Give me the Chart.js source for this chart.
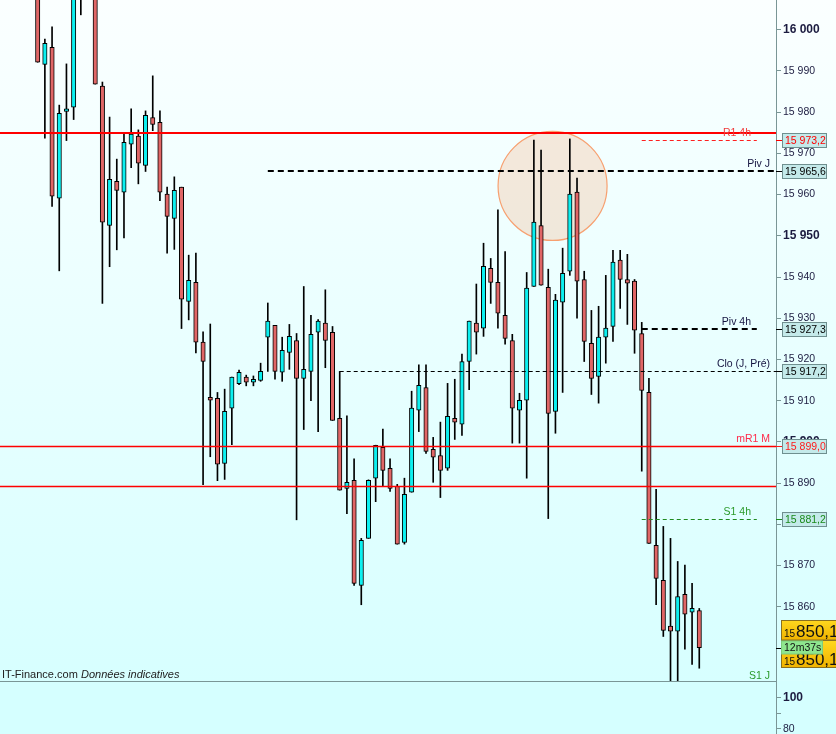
<!DOCTYPE html>
<html><head><meta charset="utf-8">
<script src="https://cdn.jsdelivr.net/npm/chart.js@4/dist/chart.umd.min.js"></script>
<style>
html,body{margin:0;padding:0;background:#d6ffff;overflow:hidden;width:836px;height:734px}
#main{position:absolute;left:0;top:0;width:836px;height:681px}
#sub{position:absolute;left:0;top:681px;width:836px;height:53px}
</style></head><body>
<div id="main"><canvas id="c1"></canvas></div>
<div id="sub"><canvas id="c2"></canvas></div>
<script>
// ---------- data ----------
const opens  = [16016,15991.6,15995.7,15959.1,15980.2,15981.2,16014,16010,16013,15986.3,
 15952.5,15963.2,15960.6,15972.2,15974.2,15967.1,15978.7,15977.5,15960.1,15954.2,
 15961.8,15934.1,15938.7,15924.2,15910.8,15910.6,15894.8,15908.2,15914.1,15915.7,
 15914.5,15914.9,15925.4,15928.3,15916.9,15921.7,15924.6,15915.4,15917.1,15926.6,
 15928.8,15926.6,15905.7,15888.7,15890.7,15865.2,15876.6,15891.2,15898.7,15893.6,
 15889.2,15875.6,15887.8,15907.7,15913.2,15898.2,15896.7,15893.6,15905.7,15904.3,
 15919.5,15928.8,15927.6,15942.1,15938.7,15930.7,15924.6,15907.7,15910.1,15937.7,
 15952.5,15937.5,15907.4,15933.9,15941.4,15960.6,15939.4,15923.9,15915.9,15925.4,
 15928.0,15944.1,15939.4,15939.0,15926.3,15912.0,15874.9,15866.4,15855.3,15854.1,
 15863.0,15858.7,15859.1];
const highs  = [16020,15997.7,16000.7,15981.7,15991.7,16016,16020,16018,16016,15987.3,
 15978.8,15968.6,15974.9,15980.8,15975.7,15980.3,15988.8,15980.3,15961.8,15964.3,
 15961.8,15945.3,15945.8,15926.7,15928.6,15912.0,15912.8,15915.7,15917.4,15916.2,
 15916.0,15919.1,15933.7,15928.3,15925.4,15928.5,15926.3,15937.7,15930.7,15929.7,
 15936.9,15928.0,15917.1,15906.3,15895.9,15876.6,15890.8,15899.2,15903.1,15895.9,
 15889.7,15891.2,15912.3,15918.7,15918.7,15901.1,15904.8,15914.2,15915.2,15921.3,
 15929.3,15938.3,15948.2,15944.5,15956.3,15946.2,15926.1,15911.8,15941.1,15973.2,
 15970.8,15941.9,15935.8,15947.0,15973.5,15964.0,15941.4,15931.9,15932.9,15940.4,
 15946.5,15946.5,15945.5,15939.4,15929.0,15915.4,15888.5,15879.5,15876.6,15871.0,
 15870.1,15865.7,15859.6];
const lows   = [15992.1,15973.7,15957.1,15941.5,15973.1,15978.2,16003.6,16008.5,15986.8,15933.6,
 15942.5,15946.6,15949.5,15966.5,15962.6,15965.6,15975.5,15958.5,15945.8,15946.7,
 15927.5,15929.6,15921.6,15889.6,15896.4,15890.6,15890.9,15899.3,15913.9,15913.6,
 15913.6,15914.7,15917.1,15915.2,15914.7,15917.6,15881.1,15903.0,15910.0,15902.5,
 15918.0,15905.2,15888.3,15882.6,15865.2,15860.5,15876.6,15885.5,15889.2,15888.0,
 15875.2,15875.2,15887.8,15902.5,15897.2,15890.2,15886.5,15893.1,15900.6,15901.6,
 15912.7,15921.3,15925.6,15933.6,15927.6,15923.7,15899.7,15899.7,15891.2,15937.7,
 15938.0,15881.4,15902.1,15912.0,15940.4,15930.0,15919.5,15911.5,15909.4,15919.1,
 15924.4,15932.4,15928.5,15921.5,15892.9,15875.4,15860.5,15852.8,15838.0,15839.0,
 15849.7,15846.0,15845.1];
const closes = [15992.1,15996.7,15959.6,15979.7,15980.8,16012,16009,16014,15986.8,15953.3,
 15963.7,15961.0,15972.7,15974.7,15967.6,15979.2,15977.0,15960.6,15954.7,15961.0,
 15934.6,15939.2,15924.2,15919.5,15910.1,15894.6,15907.4,15915.7,15916.9,15914.5,
 15915.2,15917.1,15929.3,15917.1,15922.2,15925.6,15915.4,15917.6,15926.1,15929.3,
 15924.6,15905.2,15888.3,15890.2,15865.7,15876.1,15890.7,15899.2,15893.1,15888.7,
 15875.2,15887.3,15908.2,15913.7,15897.7,15896.3,15893.1,15906.2,15904.8,15919.5,
 15929.3,15926.6,15942.6,15938.7,15931.2,15925.1,15908.2,15910.1,15937.3,15953.3,
 15938.0,15906.9,15934.4,15940.9,15960.1,15939.0,15924.4,15915.4,15925.4,15927.6,
 15943.6,15939.4,15938.5,15927.1,15912.5,15875.4,15866.9,15854.3,15854.1,15862.5,
 15858.2,15859.6,15850.1];
const candleIndex = opens.map((_, i) => i);

const levelNames  = ['R1 4h', 'Piv J', 'Piv 4h', 'Clo (J, Pré)', 'mR1 M', 'S1 4h', 'S1 J'];
const levelValues = [15973.2, 15965.6, 15927.3, 15917.2, 15899.0, 15881.2, 15836.0];
const plainRedLines = [15975.0, 15889.2];
const yTicksMain = {min: 15842.0, max: 16007.2, step: 10};
const yTicksSub  = {min: 76.8, max: 110.7, step: 10};
const subTickValues = [80, 90, 100];
const subTickLabels = ['80', '', '100'];
const timerText = '12m37s';

// ---------- styles ----------
const FONT = "'Liberation Sans', Arial, sans-serif";
const AXIS_COL = '#7a9696';
const levelStyle = {
  'R1 4h':        {line:'#ff2020', w:1, dash:[4,3], from:84, to:100, labelRight:751, text:'#f03a3a', box:'#ff0000'},
  'Piv J':        {line:'#000000', w:2, dash:[6,4], from:32, to:null, labelRight:770, text:'#141440', box:'#000000'},
  'Piv 4h':       {line:'#000000', w:2, dash:[6,4], from:84, to:100, labelRight:751, text:'#141440', box:'#000000'},
  'Clo (J, Pré)': {line:'#000000', w:1, dash:[4,3], from:42, to:null, labelRight:770, text:'#141440', box:'#000000'},
  'mR1 M':        {line:'#ff0000', w:1.4, dash:[], from:null, to:null, labelRight:770, text:'#ff2a4a', box:'#ff1a1a'},
  'S1 4h':        {line:'#1f8a1f', w:1, dash:[4,3], from:84, to:100, labelRight:751, text:'#2a9a2a', box:'#1a8a1a'},
  'S1 J':         {line:'#1f8a1f', w:1, dash:[], from:null, to:null, labelRight:770, text:'#2a9a2a', box:'#1a8a1a'}
};
const circleSpec = {x: 71.6, y: 15962.1, r: 7.58};

function fmtNum(v, dec) {
  const s = dec ? v.toFixed(1) : Math.round(v).toString();
  const parts = s.split('.');
  let ip = parts[0];
  if (ip.length > 3) ip = ip.slice(0, ip.length - 3) + ' ' + ip.slice(-3);
  return parts.length > 1 ? ip + ',' + parts[1] : ip;
}

const bgPlugin = {
  id: 'bg',
  beforeDraw(chart) {
    const {ctx, width, height} = chart;
    const g = ctx.createLinearGradient(0, 0, 0, height);
    g.addColorStop(0, '#fbffff');
    g.addColorStop(1, '#d7ffff');
    ctx.save(); ctx.fillStyle = g; ctx.fillRect(0, 0, width, height); ctx.restore();
  },
  beforeDatasetsDraw(chart) {
    const {ctx} = chart;
    const xs = chart.scales.x, ys = chart.scales.y;
    const cx = xs.getPixelForValue(circleSpec.x), cy = ys.getPixelForValue(circleSpec.y);
    const r = xs.getPixelForValue(circleSpec.x + circleSpec.r) - cx;
    ctx.save();
    ctx.beginPath(); ctx.arc(cx, cy, r, 0, Math.PI * 2);
    ctx.fillStyle = 'rgba(245,150,90,0.22)'; ctx.fill();
    ctx.strokeStyle = '#f7a070'; ctx.lineWidth = 1.2; ctx.stroke();
    ctx.restore();
  },
  afterDatasetsDraw(chart) {
    const {ctx, chartArea} = chart;
    const xs = chart.scales.x, ys = chart.scales.y;
    ctx.save();
    ctx.beginPath(); ctx.rect(chartArea.left, chartArea.top, chartArea.right - chartArea.left, chartArea.bottom - chartArea.top); ctx.clip();
    plainRedLines.forEach((v, i) => {
      const y = Math.round(ys.getPixelForValue(v)) + (i === 0 ? 0 : 0.5);
      ctx.beginPath(); ctx.moveTo(chartArea.left, y); ctx.lineTo(chartArea.right, y);
      ctx.strokeStyle = '#ff0000'; ctx.lineWidth = i === 0 ? 2 : 1.4; ctx.setLineDash([]); ctx.stroke();
    });
    levelNames.forEach((name, i) => {
      const st = levelStyle[name];
      const v = levelValues[i];
      const y = ys.getPixelForValue(v);
      const inRange = v >= ys.min && v <= ys.max;
      if (inRange) {
        const yy = st.w === 2 ? Math.round(y) : Math.round(y) + 0.5;
        const x0 = st.from === null ? chartArea.left : xs.getPixelForValue(st.from);
        const x1 = st.to === null ? chartArea.right : xs.getPixelForValue(st.to);
        ctx.beginPath(); ctx.moveTo(x0, yy); ctx.lineTo(x1, yy);
        ctx.strokeStyle = st.line; ctx.lineWidth = st.w; ctx.setLineDash(st.dash); ctx.stroke();
      }
      const ty = inRange ? y - 7 : chartArea.bottom - 5;
      ctx.setLineDash([]);
      ctx.font = '10.5px ' + FONT; ctx.textAlign = 'right'; ctx.textBaseline = 'middle';
      ctx.fillStyle = st.text; ctx.fillText(name, st.labelRight, ty);
    });
    ctx.restore();
  },
  afterDraw(chart) {
    const {ctx, chartArea} = chart;
    const ys = chart.scales.y;
    ctx.save();
    const bx = chartArea.right + 6;
    levelNames.forEach((name, i) => {
      const v = levelValues[i];
      if (v < ys.min || v > ys.max) return;
      const st = levelStyle[name];
      const y = Math.round(ys.getPixelForValue(v));
      ctx.strokeStyle = st.box; ctx.lineWidth = 1;
      ctx.beginPath(); ctx.moveTo(chartArea.right, y + 0.5); ctx.lineTo(bx, y + 0.5); ctx.stroke();
      ctx.fillStyle = '#c4eaea'; ctx.fillRect(bx + 0.5, y - 6.5, 44, 14);
      ctx.strokeStyle = '#6f8f8f'; ctx.strokeRect(bx + 0.5, y - 6.5, 44, 14);
      ctx.fillStyle = st.box; ctx.font = '10.5px ' + FONT; ctx.textAlign = 'left'; ctx.textBaseline = 'middle';
      ctx.fillText(fmtNum(v, true), bx + 3, y + 1);
    });
    const last = closes[closes.length - 1];
    const py = Math.round(ys.getPixelForValue(last));
    ctx.strokeStyle = '#000'; ctx.lineWidth = 1;
    ctx.beginPath(); ctx.moveTo(chartArea.right, py + 0.5); ctx.lineTo(bx, py + 0.5); ctx.stroke();
    const s = fmtNum(last, true);
    const head = s.slice(0, 2), tail = s.slice(3);
    const drawYellow = (top, h, base) => {
      const g = ctx.createLinearGradient(0, top, 0, top + h);
      g.addColorStop(0, '#ffd820'); g.addColorStop(1, '#f0b400');
      ctx.fillStyle = g; ctx.fillRect(bx - 0.5, top + 0.5, 60, h);
      ctx.strokeStyle = '#8a7020'; ctx.strokeRect(bx - 0.5, top + 0.5, 60, h);
      ctx.fillStyle = '#111'; ctx.textAlign = 'left'; ctx.textBaseline = 'alphabetic';
      ctx.font = '10px ' + FONT; ctx.fillText(head, bx + 2, base);
      ctx.font = '17px ' + FONT; ctx.fillText(tail, bx + 14, base);
    };
    drawYellow(py - 28, 19.5, py - 11);
    drawYellow(py - 8, 27, py + 17);
    ctx.fillStyle = '#8ee68e'; ctx.fillRect(bx - 0.5, py - 7, 41, 13);
    ctx.strokeStyle = '#7ccc7c'; ctx.strokeRect(bx - 0.5, py - 7, 41, 13);
    ctx.fillStyle = '#111'; ctx.font = '10.5px ' + FONT; ctx.textBaseline = 'middle';
    ctx.fillText(timerText, bx + 2, py);
    ctx.fillStyle = '#222'; ctx.textBaseline = 'middle';
    ctx.font = '11px ' + FONT; ctx.fillText('IT-Finance.com', 2, chartArea.bottom - 6);
    ctx.font = 'italic 11px ' + FONT; ctx.fillText('Données indicatives', 81, chartArea.bottom - 6);
    ctx.restore();
  }
};

function yAxis(lim, fixedTicks, fixedLabels) {
  const ax = {
    position: 'right', min: lim.min, max: lim.max,
    afterFit(scale) { scale.width = 60; scale.paddingTop = 0; scale.paddingBottom = 0; },
    border: {display: true, color: AXIS_COL, width: 1},
    grid: {drawOnChartArea: false, drawTicks: true, tickLength: 5, color: AXIS_COL, tickColor: AXIS_COL},
    ticks: {
      stepSize: lim.step, includeBounds: false, autoSkip: false, padding: 2, color: '#1c1c40',
      font: (c) => (c.tick && Math.round(c.tick.value) % 50 === 0)
        ? {family: FONT, size: 12, weight: 'bold'} : {family: FONT, size: 10.5},
      callback: (v) => {
        if (fixedTicks) { const k = fixedTicks.indexOf(Math.round(v)); return k >= 0 ? fixedLabels[k] : ''; }
        return fmtNum(v, false);
      }
    }
  };
  if (fixedTicks) {
    ax.afterBuildTicks = (scale) => { scale.ticks = fixedTicks.map(v => ({value: v})); };
  }
  return ax;
}

Chart.defaults.font.family = FONT;

new Chart(document.getElementById('c1'), {
  type: 'bar',
  data: {
    datasets: [
      {
        label: 'body', order: 0, grouped: false, clip: 0,
        data: candleIndex.map((x, i) => ({x: x, y: [opens[i], closes[i]]})),
        backgroundColor: candleIndex.map(i => closes[i] >= opens[i] ? '#0cf0f0' : '#e06666'),
        borderColor: '#000', borderWidth: 1, borderSkipped: false, barThickness: 4.4
      },
      {
        label: 'wick', order: 1, grouped: false, clip: 0,
        data: candleIndex.map((x, i) => ({x: x, y: [lows[i], highs[i]]})),
        backgroundColor: '#000', borderWidth: 0, barThickness: 1
      }
    ]
  },
  options: {
    responsive: true, maintainAspectRatio: false, animation: false,
    layout: {padding: 0},
    plugins: {legend: {display: false}, tooltip: {enabled: false}},
    scales: {
      x: {type: 'linear', min: -5.24, max: 102.67, display: false, offset: false},
      y: yAxis(yTicksMain, null, null)
    }
  },
  plugins: [bgPlugin]
});

new Chart(document.getElementById('c2'), {
  type: 'line',
  data: {datasets: [{data: [], label: 'vol'}]},
  options: {
    responsive: true, maintainAspectRatio: false, animation: false,
    layout: {padding: 0},
    plugins: {legend: {display: false}, tooltip: {enabled: false}},
    scales: {
      x: {type: 'linear', min: -5.24, max: 102.67, display: false},
      y: yAxis(yTicksSub, subTickValues, subTickLabels)
    }
  },
  plugins: [{
    id: 'subbg',
    beforeDraw(chart) {
      const {ctx, width, height, chartArea} = chart;
      ctx.save(); ctx.fillStyle = '#d5ffff'; ctx.fillRect(0, 0, width, height);
      ctx.strokeStyle = AXIS_COL; ctx.lineWidth = 1;
      ctx.beginPath(); ctx.moveTo(0, 0.5); ctx.lineTo(chartArea.right, 0.5); ctx.stroke();
      ctx.restore();
    }
  }]
});
</script>
</body></html>
